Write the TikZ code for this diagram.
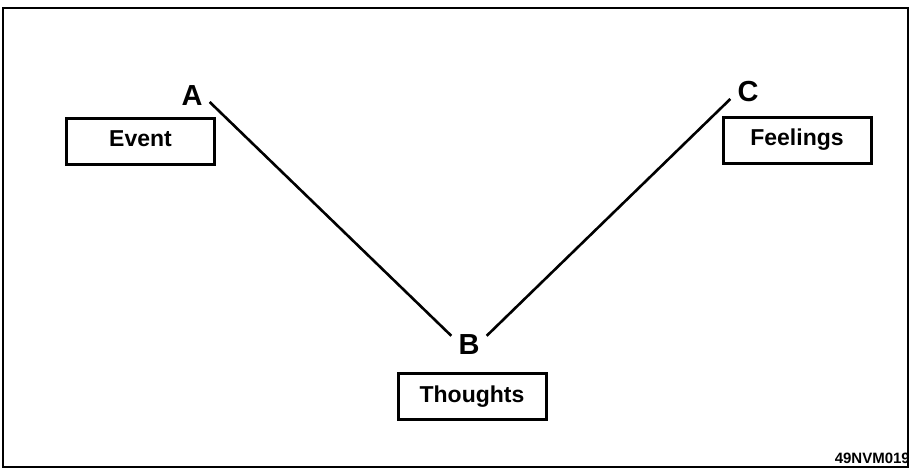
\documentclass[tikz,border=0pt]{standalone}
\usepackage{fontspec}
\setmainfont{Liberation Sans}
\usepackage{tikz}
\usetikzlibrary{positioning}

\begin{document}
\begin{tikzpicture}[x=1pt,y=-1pt,
  box/.style={draw,line width=3pt,minimum width=148pt,minimum height=46pt,inner sep=0pt,
    text height=16pt,text depth=4.5pt,font=\fontsize{23}{23}\selectfont\bfseries},
  letter/.style={inner sep=3pt,font=\fontsize{29}{29}\selectfont\bfseries},
  link/.style={draw,line width=2.6pt}]
\useasboundingbox (0,0) rectangle (911,472);
\draw[line width=2.5pt] (3,8) rectangle (908,467);
% boxes
\node[box] (event) at (140.5,141) {Event};
\node[box] (feel) at (797,140) {Feelings};
\node[box] (thought) at (472,396.5) {Thoughts};
% letters
\node[letter] (A) at (192,96) {A};
\node[letter] (B) at (469,345) {B};
\node[letter] (C) at (748,92) {C};
\node[anchor=base east,inner sep=0pt,font=\fontsize{15}{15}\selectfont\bfseries] (tag) at (910,463) {49NVM019};
% links
\draw[link] ([shift={(4,6)}]A.east) -- ([shift={(-4,4)}]B.north west);
\draw[link] ([shift={(-4,7)}]C.west) -- ([shift={(4,4)}]B.north east);
\end{tikzpicture}
\end{document}
